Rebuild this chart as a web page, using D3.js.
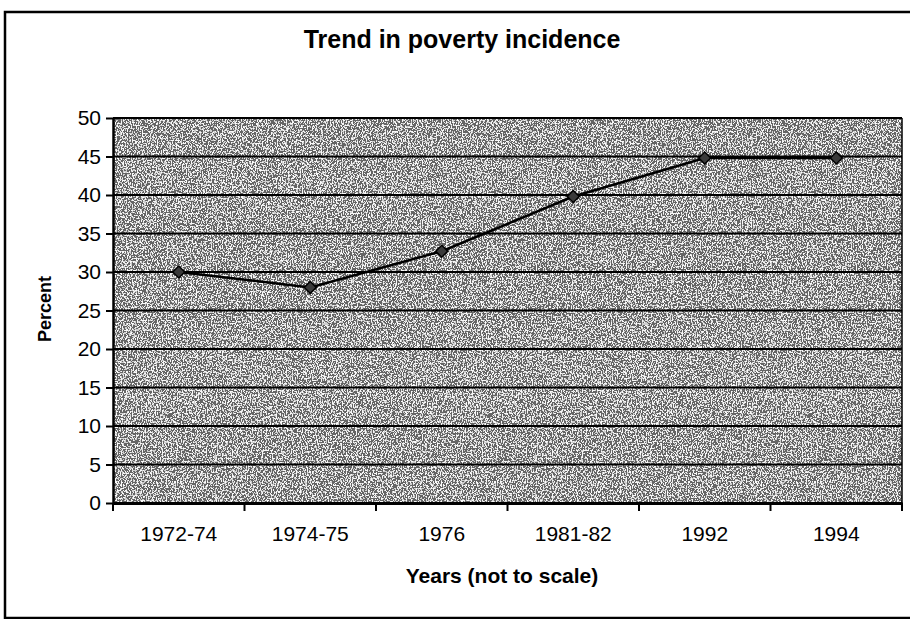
<!DOCTYPE html>
<html>
<head>
<meta charset="utf-8">
<script src="https://cdn.jsdelivr.net/npm/d3@7"></script>
<style>
  body { margin: 0; background: #fff; }
  text { font-family: "Liberation Sans", Arial, sans-serif; fill: #000; }
</style>
</head>
<body>
<svg width="910" height="619"></svg>
<script>
// chart data
const categories = ["1972-74", "1974-75", "1976", "1981-82", "1992", "1994"];
const percentValues = [30, 28, 32.7, 39.8, 44.8, 44.8];
const yTicks = [0, 5, 10, 15, 20, 25, 30, 35, 40, 45, 50];

const svg = d3.select("svg");
const plot = {left: 113, right: 902, top: 118, bottom: 503};

// speckled grey like the scanned Excel plot area
const defs = svg.append("defs");
const grain = defs.append("filter").attr("id", "grain")
  .attr("x", 0).attr("y", 0).attr("width", "100%").attr("height", "100%");
grain.append("feTurbulence").attr("type", "fractalNoise")
  .attr("baseFrequency", "0.8 0.6").attr("numOctaves", 3).attr("seed", 7);
grain.append("feColorMatrix").attr("type", "saturate").attr("values", 0);
const ct = grain.append("feComponentTransfer");
["feFuncR", "feFuncG", "feFuncB"].forEach(f =>
  ct.append(f).attr("type", "discrete")
    .attr("tableValues", "0.1 0.1 0.1 0.1 0.1 0.1 0.1 0.6 0.95 0.95 0.95 0.95 0.95 0.95"));
ct.append("feFuncA").attr("type", "discrete").attr("tableValues", "1");

// outer chart frame
svg.append("rect")
  .attr("x", 5).attr("y", 12).attr("width", 912).attr("height", 606)
  .attr("fill", "none").attr("stroke", "#000").attr("stroke-width", 2.5);

var x = d3.scaleBand()
  .domain(categories)
  .range([plot.left, plot.right]);

var y = d3.scaleLinear()
  .domain([0, 50])
  .range([plot.bottom, plot.top]);

// plot area
svg.append("rect")
  .attr("x", plot.left).attr("y", plot.top)
  .attr("width", plot.right - plot.left).attr("height", plot.bottom - plot.top)
  .attr("filter", "url(#grain)");
svg.append("rect")
  .attr("x", plot.left).attr("y", plot.top)
  .attr("width", plot.right - plot.left).attr("height", plot.bottom - plot.top)
  .attr("fill", "#fff").attr("opacity", 0.08);

// gridlines
svg.append("g")
  .selectAll("line")
  .data(yTicks.filter(d => d > 0))
  .join("line")
  .attr("x1", plot.left).attr("x2", plot.right)
  .attr("y1", d => y(d)).attr("y2", d => y(d))
  .attr("stroke", "#000").attr("stroke-width", 2.2);

svg.append("line")
  .attr("x1", plot.right).attr("x2", plot.right)
  .attr("y1", plot.top).attr("y2", plot.bottom)
  .attr("stroke", "#000").attr("stroke-width", 1.5);

// y axis
const yAxis = svg.append("g")
  .attr("transform", "translate(" + plot.left + ",0)")
  .call(d3.axisLeft(y).tickValues(yTicks).tickSize(7).tickPadding(5).tickSizeOuter(0));
yAxis.select(".domain").attr("stroke-width", 2.5);
yAxis.selectAll(".tick line").attr("stroke-width", 2);
yAxis.selectAll("text").attr("font-size", 21).attr("font-family", "Liberation Sans, Arial, sans-serif");

// x axis: labels at band centres, tick marks on band edges
const xAxis = svg.append("g")
  .attr("transform", "translate(0," + plot.bottom + ")")
  .call(d3.axisBottom(x).tickSize(0).tickPadding(23));
xAxis.select(".domain").attr("stroke-width", 3);
xAxis.selectAll("text").attr("font-size", 21).attr("font-family", "Liberation Sans, Arial, sans-serif");

const edges = categories.map(c => x(c)).concat([plot.right]);
svg.append("g")
  .selectAll("line")
  .data(edges)
  .join("line")
  .attr("x1", d => d).attr("x2", d => d)
  .attr("y1", plot.bottom).attr("y2", plot.bottom + 8)
  .attr("stroke", "#000").attr("stroke-width", 2);

// series line
var line = d3.line()
  .x((d, i) => x(categories[i]) + x.bandwidth() / 2)
  .y(d => y(d));

svg.append("path")
  .datum(percentValues)
  .attr("fill", "none")
  .attr("stroke", "#000")
  .attr("stroke-width", 2.5)
  .attr("d", line);

svg.append("g")
  .selectAll("path")
  .data(percentValues)
  .join("path")
  .attr("d", d3.symbol(d3.symbolSquare, 72))
  .attr("transform", (d, i) => "translate(" + (x(categories[i]) + x.bandwidth() / 2) + "," + y(d) + ") rotate(45)")
  .attr("fill", "#3a3a3a")
  .attr("stroke", "#000")
  .attr("stroke-width", 1.5);

// titles
svg.append("text")
  .attr("x", 462).attr("y", 48)
  .attr("text-anchor", "middle")
  .attr("font-size", 25).attr("font-weight", "bold")
  .text("Trend in poverty incidence");

svg.append("text")
  .attr("x", 502).attr("y", 583)
  .attr("text-anchor", "middle")
  .attr("font-size", 21).attr("font-weight", "bold")
  .text("Years (not to scale)");

svg.append("text")
  .attr("transform", "translate(51,309) rotate(-90)")
  .attr("text-anchor", "middle")
  .attr("font-size", 18).attr("font-weight", "bold")
  .text("Percent");
</script>
</body>
</html>
